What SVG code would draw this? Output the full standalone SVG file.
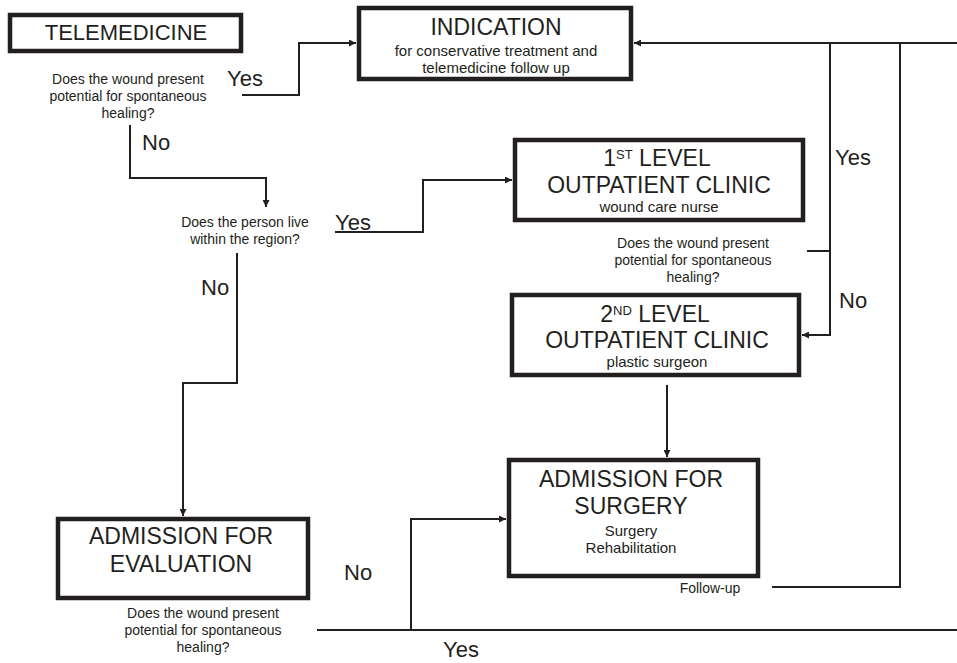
<svg xmlns="http://www.w3.org/2000/svg" width="957" height="663" viewBox="0 0 957 663">
<style>
text{font-family:"Liberation Sans",Arial,Helvetica,sans-serif;fill:#231f20;text-anchor:middle}
.box{fill:#fff;stroke:#231f20;stroke-width:4.5}
.h{font-size:23px}
.s{font-size:15px}
.q{font-size:14px}
.lbl{font-size:22px;text-anchor:start}
.c{fill:none;stroke:#231f20;stroke-width:2}
</style>
<defs>
<marker id="ah" viewBox="0 0 10 10" refX="10" refY="5" markerWidth="8" markerHeight="7" orient="auto" markerUnits="userSpaceOnUse">
<path d="M0,0 L10,5 L0,10 z" fill="#231f20"/>
</marker>
</defs>
<rect width="957" height="663" fill="#fff"/>
<g id="connectors">
<path class="c" d="M242,95 H299 V43 H356" marker-end="url(#ah)"/>
<path class="c" d="M130,125 V178 H266 V207" marker-end="url(#ah)"/>
<path class="c" d="M335,232 H423 V180 H512" marker-end="url(#ah)"/>
<path class="c" d="M237,253 V383 H183 V516" marker-end="url(#ah)"/>
<path class="c" d="M957,43 H634" marker-end="url(#ah)"/>
<path class="c" d="M830,43 V335 H802" marker-end="url(#ah)"/>
<path class="c" d="M807,251 H830"/>
<path class="c" d="M772,587 H900 V43"/>
<path class="c" d="M667,385 V457" marker-end="url(#ah)"/>
<path class="c" d="M317,630 H957"/>
<path class="c" d="M411,630 V519 H506" marker-end="url(#ah)"/>
</g>
<g id="telemedicine">
<rect class="box" x="10" y="15" width="231" height="36"/>
<text x="126" y="40" style="font-size:22px">TELEMEDICINE</text>
</g>
<g id="q1">
<text class="q" x="128" y="84">Does the wound present</text>
<text class="q" x="128" y="101">potential for spontaneous</text>
<text class="q" x="128" y="118">healing?</text>
<text class="lbl" x="227" y="86">Yes</text>
<text class="lbl" x="142" y="150">No</text>
</g>
<g id="indication">
<rect class="box" x="359" y="8" width="272" height="71"/>
<text class="h" x="496" y="35">INDICATION</text>
<text class="s" x="496" y="56">for conservative treatment and</text>
<text class="s" x="496" y="73">telemedicine follow up</text>
</g>
<g id="q2">
<text class="q" x="245" y="227">Does the person live</text>
<text class="q" x="245" y="244">within the region?</text>
<text class="lbl" x="335" y="230">Yes</text>
<text class="lbl" x="201" y="295">No</text>
</g>
<g id="level1">
<rect class="box" x="515" y="140" width="288" height="80"/>
<text class="h" x="657" y="166">1<tspan style="font-size:13px" dy="-7">ST</tspan><tspan dy="7"> LEVEL</tspan></text>
<text class="h" x="659" y="193">OUTPATIENT CLINIC</text>
<text class="s" x="659" y="212">wound care nurse</text>
</g>
<g id="q3">
<text class="q" x="693" y="248">Does the wound present</text>
<text class="q" x="693" y="265">potential for spontaneous</text>
<text class="q" x="693" y="282">healing?</text>
<text class="lbl" x="835" y="165">Yes</text>
<text class="lbl" x="839" y="308">No</text>
</g>
<g id="level2">
<rect class="box" x="512" y="295" width="287" height="80"/>
<text class="h" x="655" y="322">2<tspan style="font-size:13px" dy="-7">ND</tspan><tspan dy="7"> LEVEL</tspan></text>
<text class="h" x="657" y="348">OUTPATIENT CLINIC</text>
<text class="s" x="657" y="367">plastic surgeon</text>
</g>
<g id="surgery">
<rect class="box" x="509" y="460" width="249" height="116"/>
<text class="h" x="631" y="487">ADMISSION FOR</text>
<text class="h" x="631" y="514">SURGERY</text>
<text class="s" x="631" y="536">Surgery</text>
<text class="s" x="631" y="553">Rehabilitation</text>
<text class="q" x="710" y="593">Follow-up</text>
</g>
<g id="evaluation">
<rect class="box" x="58" y="519" width="250" height="79"/>
<text class="h" x="181" y="544">ADMISSION FOR</text>
<text class="h" x="181" y="572">EVALUATION</text>
</g>
<g id="q4">
<text class="q" x="203" y="618">Does the wound present</text>
<text class="q" x="203" y="635">potential for spontaneous</text>
<text class="q" x="203" y="652">healing?</text>
<text class="lbl" x="344" y="580">No</text>
<text class="lbl" x="443" y="657">Yes</text>
</g>
</svg>
